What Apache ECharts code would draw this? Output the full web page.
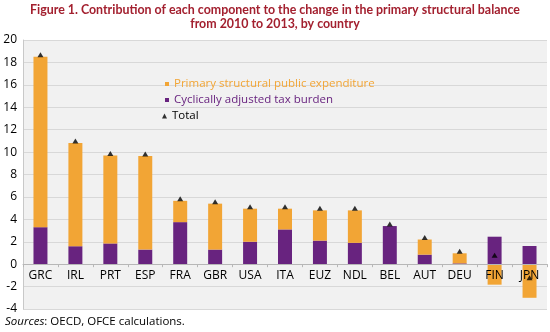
<!DOCTYPE html>
<html>
<head>
<meta charset="utf-8">
<script src="https://cdn.jsdelivr.net/npm/echarts@6/dist/echarts.min.js"></script>
<style>html,body{margin:0;padding:0;background:#fff;}#c{width:550px;height:332px;}</style>
</head>
<body>
<div id="c"></div>
<script>
const categories = ['GRC','IRL','PRT','ESP','FRA','GBR','USA','ITA','EUZ','NDL','BEL','AUT','DEU','FIN','JPN'];
const taxBurden = [3.3,1.6,1.85,1.3,3.75,1.3,2.0,3.1,2.1,1.9,3.4,0.85,0.07,2.45,1.62];
const expenditure = [15.2,9.2,7.85,8.35,1.9,4.1,2.95,1.85,2.7,2.9,0,1.35,0.9,-1.83,-3.0];
const total = [18.5,10.8,9.7,9.65,5.65,5.4,4.95,4.95,4.8,4.8,3.4,2.2,0.97,0.62,-1.38];
const yTicks = [-4,-2,0,2,4,6,8,10,12,14,16,18,20];

const ORANGE = '#f2a535', PURPLE = '#68237f', TITLE = '#a3202f';
const FONT = 'Open Sans';
const Y_MIN = -4, Y_MAX = 20;
const GRID_TOP = 40, GRID_BOTTOM = 23, H = 332;
const pxPerUnit = (H - GRID_TOP - GRID_BOTTOM) / (Y_MAX - Y_MIN);

const chart = echarts.init(document.getElementById('c'), null, {renderer:'canvas'});
chart.setOption({
  animation: false,
  backgroundColor: '#ffffff',
  title: [{
    text: 'Figure 1. Contribution of each component to the change in the primary structural balance\nfrom 2010 to 2013, by country',
    left: 275, top: 3, textAlign: 'center', padding: 0,
    textStyle: {color: TITLE, fontFamily: 'Lato', fontWeight: 'bold', fontSize: 12.4, lineHeight: 14}
  },{
    text: '{i|Sources}: OECD, OFCE calculations.',
    left: 5, top: 316, padding: 0,
    textStyle: {color: '#000', fontFamily: FONT, fontSize: 11.5, fontWeight: 'normal',
      rich: {i: {fontStyle: 'italic', fontFamily: FONT, fontSize: 11.5, color: '#000'}}}
  }],
  grid: {left: 23, right: 3, top: GRID_TOP, bottom: GRID_BOTTOM, show: true, backgroundColor: '#f1f1f1', borderWidth: 0, containLabel: false},
  legend: [{
    data: [{name: 'Primary structural public expenditure', textStyle: {color: ORANGE}}],
    left: 165, top: 78, padding: 0, itemWidth: 4, itemHeight: 4, icon: 'rect',
    textStyle: {fontFamily: FONT, fontSize: 11.5}
  },{
    data: [{name: 'Cyclically adjusted tax burden', textStyle: {color: PURPLE}}],
    left: 165, top: 94, padding: 0, itemWidth: 4, itemHeight: 4, icon: 'rect',
    textStyle: {fontFamily: FONT, fontSize: 11.5}
  },{
    data: [{name: 'Total', textStyle: {color: '#000'}}],
    left: 162, top: 110, padding: 0, itemWidth: 5, itemHeight: 5, icon: 'triangle',
    textStyle: {fontFamily: FONT, fontSize: 11.5}
  }],
  xAxis: {
    type: 'category', data: categories, z: 10,
    offset: -(0 - Y_MIN) * pxPerUnit,
    axisLine: {onZero: false, lineStyle: {color: '#b7b7b7', width: 1}},
    axisTick: {show: true, length: 3, lineStyle: {color: '#b7b7b7'}},
    axisLabel: {color: '#000', fontFamily: FONT, fontSize: 12, margin: 5, interval: 0}
  },
  yAxis: {
    type: 'value', min: Y_MIN, max: Y_MAX, interval: 2,
    axisLine: {show: true, lineStyle: {color: '#c8c8c8'}},
    axisTick: {show: false},
    splitLine: {lineStyle: {color: '#d8d8d8', width: 1}},
    axisLabel: {color: '#000', fontFamily: FONT, fontSize: 12, margin: 6,
      formatter: v => yTicks.includes(v) ? String(v) : ''}
  },
  series: [{
    name: 'Cyclically adjusted tax burden', type: 'bar', stack: 's', data: taxBurden,
    barWidth: '40%', itemStyle: {color: PURPLE}
  },{
    name: 'Primary structural public expenditure', type: 'bar', stack: 's', data: expenditure,
    barWidth: '40%', itemStyle: {color: ORANGE}
  },{
    name: 'Total', type: 'scatter', data: total, symbol: 'triangle', symbolSize: [6,5],
    symbolOffset: [0,-2], itemStyle: {color: '#000'}, z: 5
  }]
});
</script>
</body>
</html>
